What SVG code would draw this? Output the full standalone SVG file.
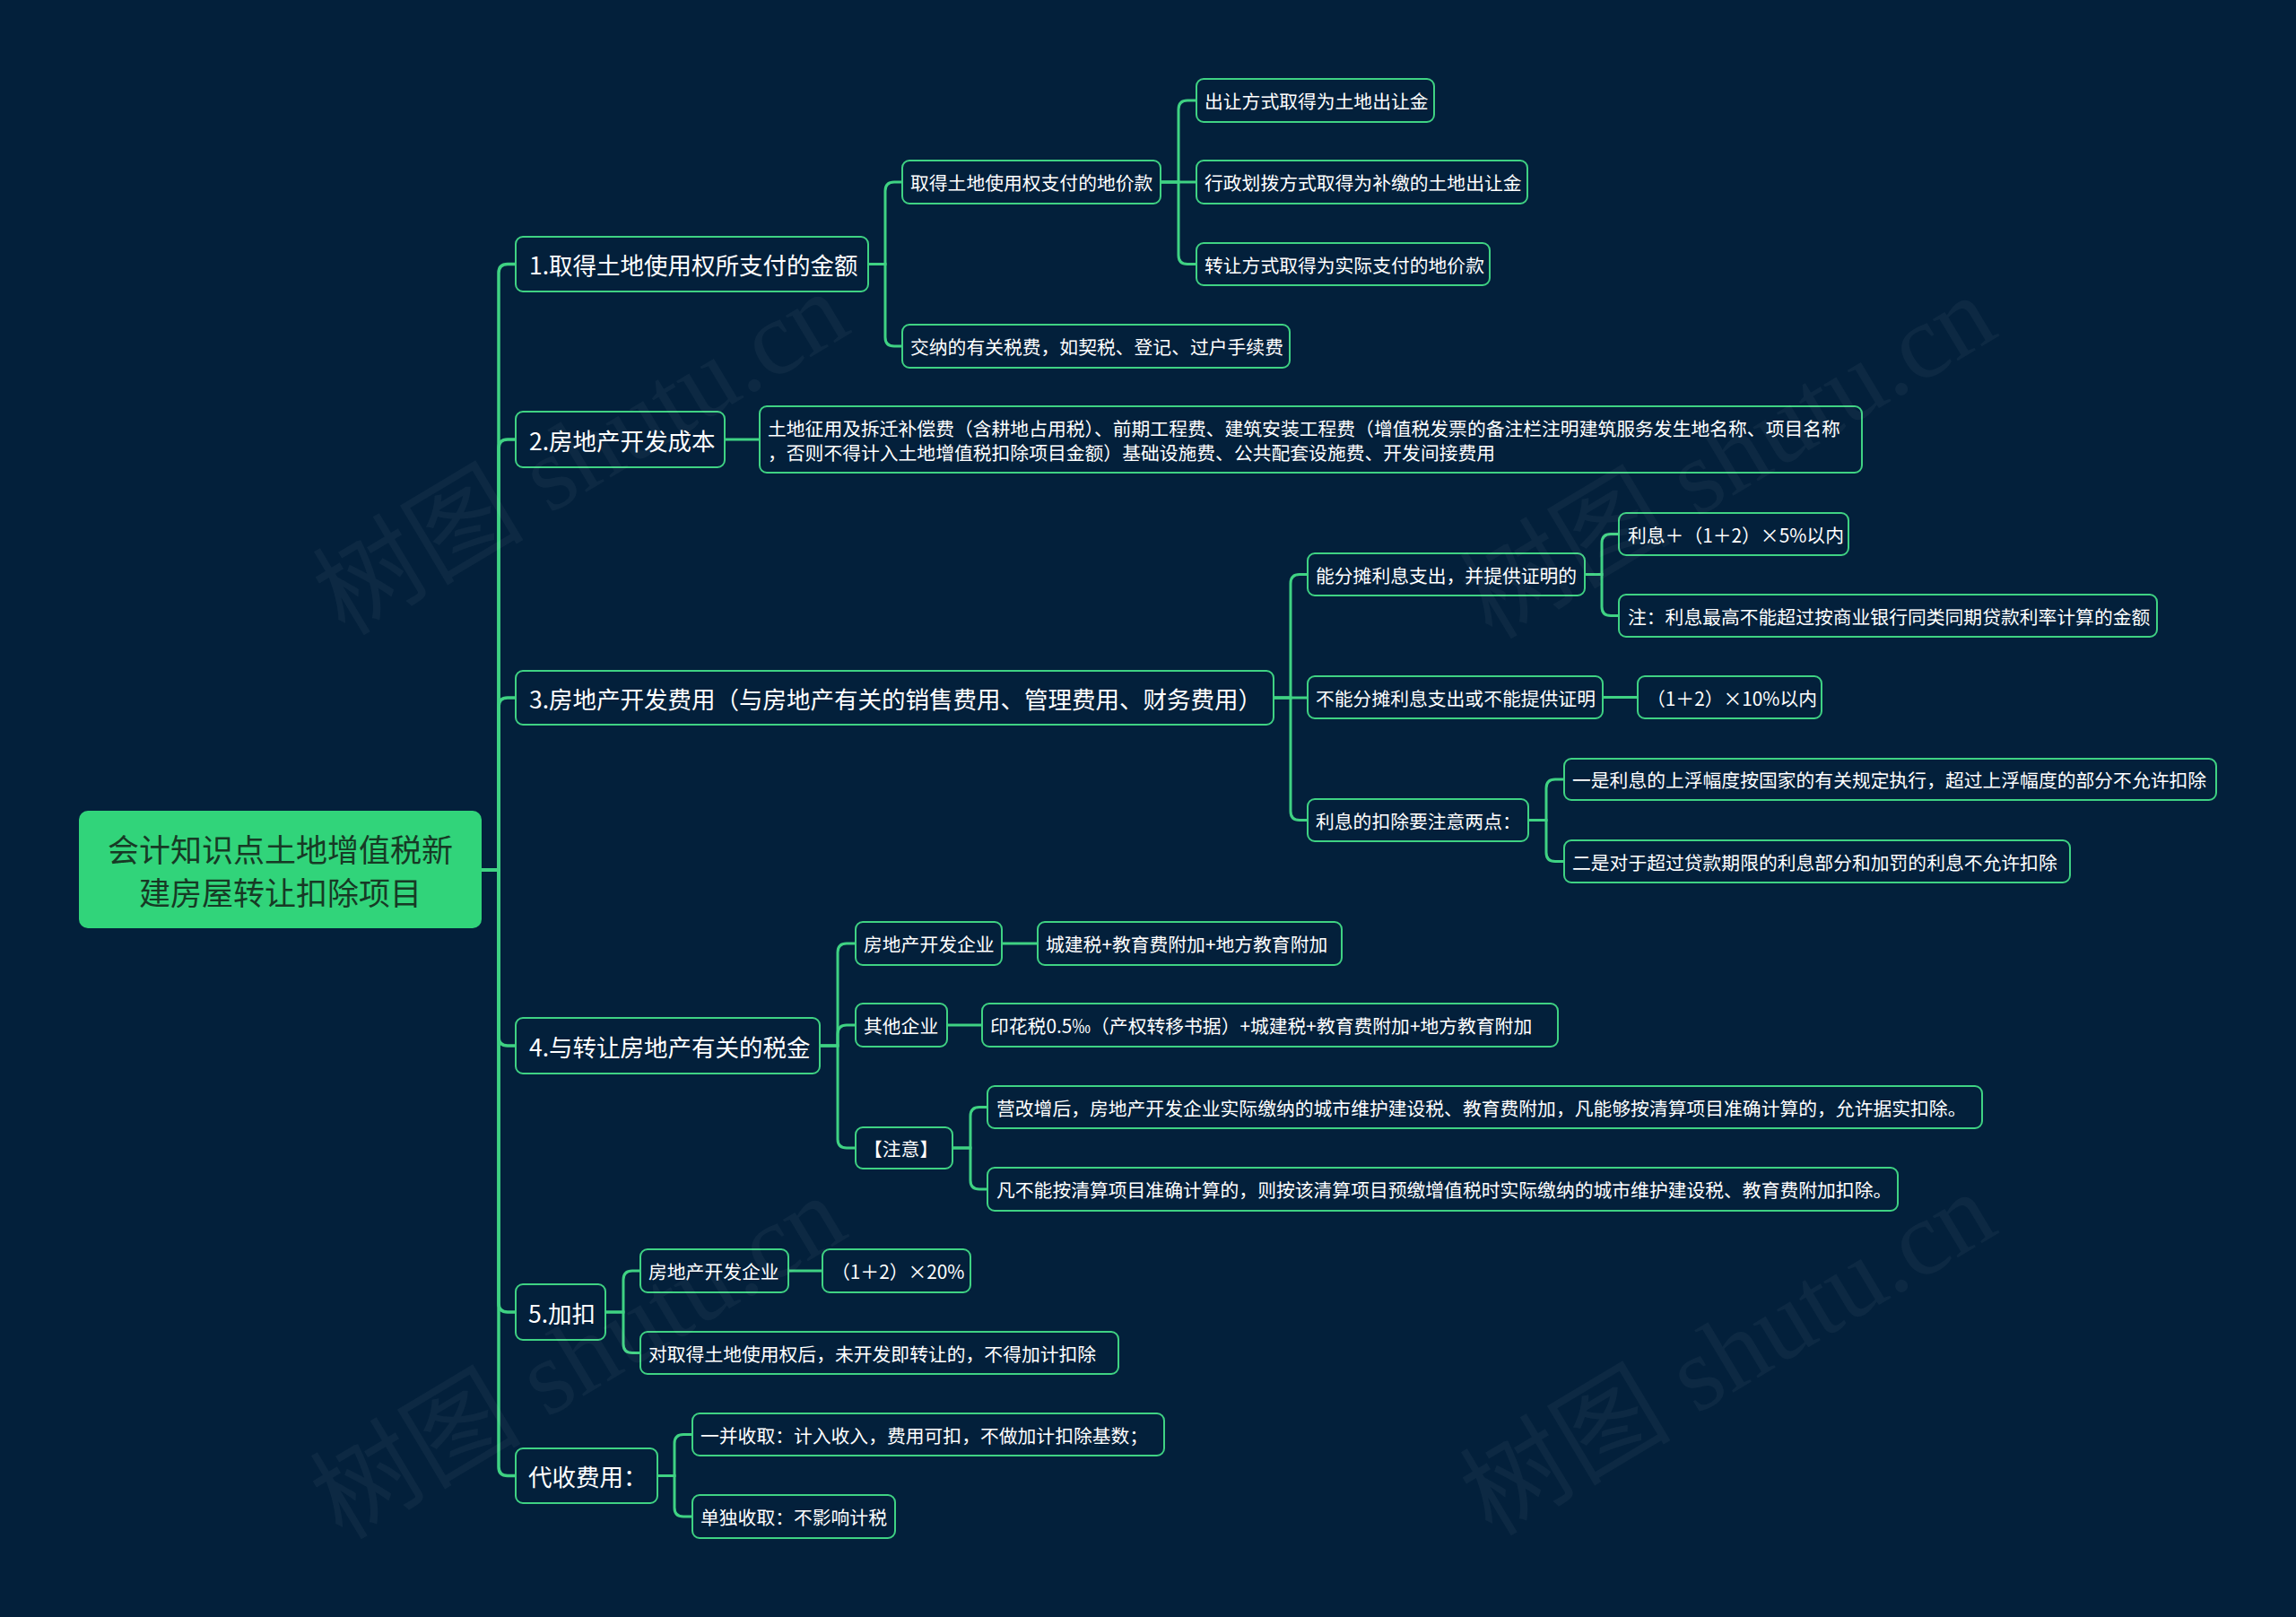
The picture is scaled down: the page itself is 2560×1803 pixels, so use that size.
<svg xmlns="http://www.w3.org/2000/svg" width="2560" height="1803" viewBox="0 0 2560 1803">
<style>
.bg{fill:#03203b}
.nd{fill:#03203b;stroke:#3fd283;stroke-width:2}
.root{fill:#31d47a}
.rt{font-family:"Noto Sans CJK SC","Noto Sans",sans-serif;font-size:35px;fill:#173a25;text-anchor:middle;dominant-baseline:central}
.t1{font-family:"Noto Sans CJK SC","Noto Sans",sans-serif;font-size:26.5px;fill:#ffffff;dominant-baseline:central}
.t2{font-family:"Noto Sans CJK SC","Noto Sans",sans-serif;font-size:20.8px;fill:#ffffff;dominant-baseline:central}
.cn{fill:none;stroke:#3fd283;stroke-width:3;stroke-linecap:round}
.cm{stroke-width:3.5}
.wm{font-family:"Liberation Serif","Noto Sans CJK SC",serif;font-size:118px;fill:#ffffff;fill-opacity:0.045;text-anchor:middle;dominant-baseline:central}
</style>
<rect class="bg" x="0" y="0" width="2560" height="1803"/>
<g id="connectors">
<path class="cn cm" d="M537 970 H556 V304.5 Q556 294.5 566 294.5 H575"/>
<path class="cn cm" d="M537 970 H556 V500 Q556 490 566 490 H575"/>
<path class="cn cm" d="M537 970 H556 V788 Q556 778 566 778 H575"/>
<path class="cn cm" d="M537 970 H556 V1156 Q556 1166 566 1166 H575"/>
<path class="cn cm" d="M537 970 H556 V1453 Q556 1463 566 1463 H575"/>
<path class="cn cm" d="M537 970 H556 V1635.5 Q556 1645.5 566 1645.5 H575"/>
<path class="cn" d="M968 294.5 H987 V213 Q987 203 997 203 H1006"/>
<path class="cn" d="M968 294.5 H987 V376 Q987 386 997 386 H1006"/>
<path class="cn" d="M1294 203 H1314 V122 Q1314 112 1324 112 H1334"/>
<path class="cn" d="M1294 203 H1334"/>
<path class="cn" d="M1294 203 H1314 V284.5 Q1314 294.5 1324 294.5 H1334"/>
<path class="cn" d="M808 490 H847"/>
<path class="cn" d="M1420 778 H1439 V650.5 Q1439 640.5 1449 640.5 H1458"/>
<path class="cn" d="M1420 778 H1458"/>
<path class="cn" d="M1420 778 H1439 V904.5 Q1439 914.5 1449 914.5 H1458"/>
<path class="cn" d="M1767 640.5 H1786 V605.5 Q1786 595.5 1796 595.5 H1805"/>
<path class="cn" d="M1767 640.5 H1786 V676.5 Q1786 686.5 1796 686.5 H1805"/>
<path class="cn" d="M1787 777.5 H1826"/>
<path class="cn" d="M1704 914.5 H1724 V879 Q1724 869 1734 869 H1744"/>
<path class="cn" d="M1704 914.5 H1724 V950.5 Q1724 960.5 1734 960.5 H1744"/>
<path class="cn" d="M914 1166 H934 V1062 Q934 1052 944 1052 H954"/>
<path class="cn" d="M914 1166 H934 V1153 Q934 1143 944 1143 H954"/>
<path class="cn" d="M914 1166 H934 V1270 Q934 1280 944 1280 H954"/>
<path class="cn" d="M1117 1052 H1157"/>
<path class="cn" d="M1056 1143 H1095"/>
<path class="cn" d="M1062 1280 H1082 V1244.5 Q1082 1234.5 1092 1234.5 H1101"/>
<path class="cn" d="M1062 1280 H1082 V1316 Q1082 1326 1092 1326 H1101"/>
<path class="cn" d="M675 1463 H695 V1427 Q695 1417 705 1417 H714"/>
<path class="cn" d="M675 1463 H695 V1498.5 Q695 1508.5 705 1508.5 H714"/>
<path class="cn" d="M879 1417 H917"/>
<path class="cn" d="M733 1645.5 H752 V1609.5 Q752 1599.5 762 1599.5 H772"/>
<path class="cn" d="M733 1645.5 H752 V1681 Q752 1691 762 1691 H772"/>
</g>
<g id="root"><rect class="root" x="88" y="904" width="449" height="131" rx="10"/><text class="rt" x="312.5" y="945">会计知识点土地增值税新</text><text class="rt" x="312.5" y="993">建房屋转让扣除项目</text></g>
<g id="n1"><rect class="nd" x="575" y="264" width="393" height="61" rx="8"/><text class="t1" x="590" y="294.5">1.取得土地使用权所支付的金额</text></g>
<g id="n2"><rect class="nd" x="575" y="459" width="233" height="62" rx="8"/><text class="t1" x="590" y="490">2.房地产开发成本</text></g>
<g id="n3"><rect class="nd" x="575" y="748" width="845" height="60" rx="8"/><text class="t1" x="590" y="778">3.房地产开发费用（与房地产有关的销售费用、管理费用、财务费用）</text></g>
<g id="n4"><rect class="nd" x="575" y="1135" width="339" height="62" rx="8"/><text class="t1" x="590" y="1166">4.与转让房地产有关的税金</text></g>
<g id="n5"><rect class="nd" x="575" y="1432" width="100" height="62" rx="8"/><text class="t1" x="589" y="1463">5.加扣</text></g>
<g id="n6"><rect class="nd" x="575" y="1615" width="158" height="61" rx="8"/><text class="t1" x="589" y="1645.5">代收费用：</text></g>
<g id="a1"><rect class="nd" x="1006" y="179" width="288" height="48" rx="8"/><text class="t2" x="1015" y="203">取得土地使用权支付的地价款</text></g>
<g id="a2"><rect class="nd" x="1006" y="362" width="432" height="48" rx="8"/><text class="t2" x="1015" y="386">交纳的有关税费，如契税、登记、过户手续费</text></g>
<g id="b1"><rect class="nd" x="1334" y="88" width="265" height="48" rx="8"/><text class="t2" x="1343" y="112">出让方式取得为土地出让金</text></g>
<g id="b2"><rect class="nd" x="1334" y="179" width="369" height="48" rx="8"/><text class="t2" x="1343" y="203">行政划拨方式取得为补缴的土地出让金</text></g>
<g id="b3"><rect class="nd" x="1334" y="271" width="327" height="47" rx="8"/><text class="t2" x="1343" y="294.5">转让方式取得为实际支付的地价款</text></g>
<g id="c1"><rect class="nd" x="847" y="453" width="1229" height="74" rx="8"/><text class="t2" x="856" y="477">土地征用及拆迁补偿费（含耕地占用税）、前期工程费、建筑安装工程费（增值税发票的备注栏注明建筑服务发生地名称、项目名称</text><text class="t2" x="856" y="504">，否则不得计入土地增值税扣除项目金额）基础设施费、公共配套设施费、开发间接费用</text></g>
<g id="d1"><rect class="nd" x="1458" y="617" width="309" height="47" rx="8"/><text class="t2" x="1467" y="640.5">能分摊利息支出，并提供证明的</text></g>
<g id="d2"><rect class="nd" x="1458" y="754" width="329" height="47" rx="8"/><text class="t2" x="1467" y="777.5">不能分摊利息支出或不能提供证明</text></g>
<g id="d3"><rect class="nd" x="1458" y="891" width="246" height="47" rx="8"/><text class="t2" x="1467" y="914.5">利息的扣除要注意两点：</text></g>
<g id="e1"><rect class="nd" x="1805" y="572" width="256" height="47" rx="8"/><text class="t2" x="1815" y="595.5">利息＋（1＋2）×5%以内</text></g>
<g id="e2"><rect class="nd" x="1805" y="663" width="600" height="47" rx="8"/><text class="t2" x="1815" y="686.5">注：利息最高不能超过按商业银行同类同期贷款利率计算的金额</text></g>
<g id="e3"><rect class="nd" x="1826" y="754" width="205" height="47" rx="8"/><text class="t2" x="1836" y="777.5">（1＋2）×10%以内</text></g>
<g id="e4"><rect class="nd" x="1744" y="846" width="727" height="46" rx="8"/><text class="t2" x="1753" y="869">一是利息的上浮幅度按国家的有关规定执行，超过上浮幅度的部分不允许扣除</text></g>
<g id="e5"><rect class="nd" x="1744" y="937" width="564" height="47" rx="8"/><text class="t2" x="1753" y="960.5">二是对于超过贷款期限的利息部分和加罚的利息不允许扣除</text></g>
<g id="f1"><rect class="nd" x="954" y="1028" width="163" height="48" rx="8"/><text class="t2" x="963" y="1052">房地产开发企业</text></g>
<g id="f2"><rect class="nd" x="954" y="1119" width="102" height="48" rx="8"/><text class="t2" x="963" y="1143">其他企业</text></g>
<g id="f3"><rect class="nd" x="954" y="1257" width="108" height="46" rx="8"/><text class="t2" x="963" y="1280">【注意】</text></g>
<g id="g1"><rect class="nd" x="1157" y="1028" width="339" height="48" rx="8"/><text class="t2" x="1166" y="1052">城建税+教育费附加+地方教育附加</text></g>
<g id="g2"><rect class="nd" x="1095" y="1119" width="642" height="48" rx="8"/><text class="t2" x="1104" y="1143">印花税0.5‰（产权转移书据）+城建税+教育费附加+地方教育附加</text></g>
<g id="g3"><rect class="nd" x="1101" y="1211" width="1109" height="47" rx="8"/><text class="t2" x="1111" y="1234.5">营改增后，房地产开发企业实际缴纳的城市维护建设税、教育费附加，凡能够按清算项目准确计算的，允许据实扣除。</text></g>
<g id="g4"><rect class="nd" x="1101" y="1302" width="1015" height="48" rx="8"/><text class="t2" x="1111" y="1326">凡不能按清算项目准确计算的，则按该清算项目预缴增值税时实际缴纳的城市维护建设税、教育费附加扣除。</text></g>
<g id="h1"><rect class="nd" x="714" y="1393" width="165" height="48" rx="8"/><text class="t2" x="723" y="1417">房地产开发企业</text></g>
<g id="h2"><rect class="nd" x="917" y="1393" width="165" height="48" rx="8"/><text class="t2" x="927" y="1417">（1＋2）×20%</text></g>
<g id="h3"><rect class="nd" x="714" y="1485" width="533" height="47" rx="8"/><text class="t2" x="723" y="1508.5">对取得土地使用权后，未开发即转让的，不得加计扣除</text></g>
<g id="i1"><rect class="nd" x="772" y="1576" width="526" height="47" rx="8"/><text class="t2" x="781" y="1599.5">一并收取：计入收入，费用可扣，不做加计扣除基数；</text></g>
<g id="i2"><rect class="nd" x="772" y="1667" width="226" height="48" rx="8"/><text class="t2" x="781" y="1691">单独收取：不影响计税</text></g>
<g id="watermarks">
<text class="wm" transform="rotate(-31 648 506)" x="648" y="506">树图 shutu.cn</text>
<text class="wm" transform="rotate(-31 1927 510)" x="1927" y="510">树图 shutu.cn</text>
<text class="wm" transform="rotate(-31 645 1514)" x="645" y="1514">树图 shutu.cn</text>
<text class="wm" transform="rotate(-31 1927 1510)" x="1927" y="1510">树图 shutu.cn</text>
</g>
</svg>
